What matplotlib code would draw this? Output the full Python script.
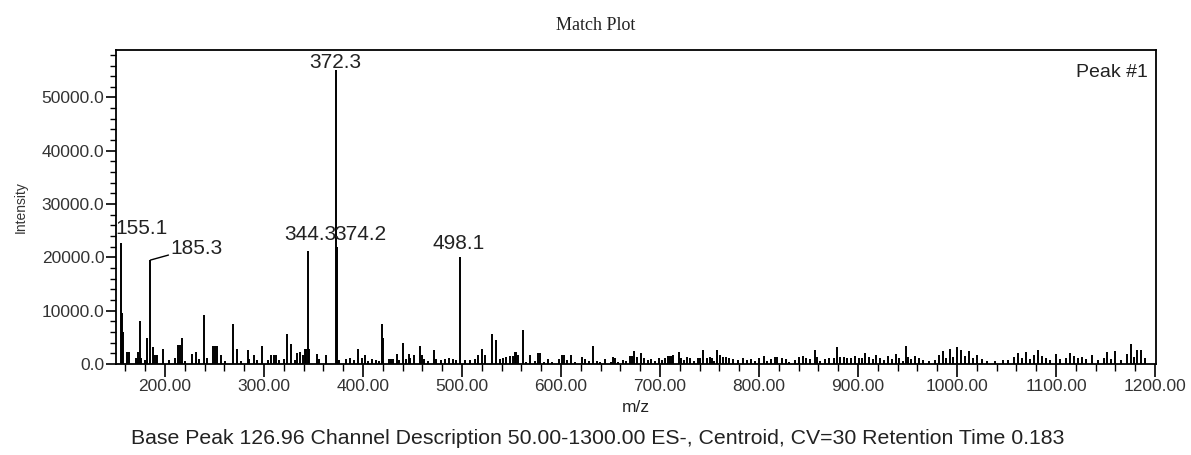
import matplotlib
matplotlib.use("Agg")
import matplotlib.pyplot as plt
from matplotlib.ticker import MultipleLocator, FormatStrFormatter

# Centroided spectrum: m/z positions and intensities
mz = [
    155.1, 156.5, 158.0, 162.0, 164.0, 171.0, 172.5, 175.0, 176.0, 180.0,
    182.0, 185.3, 187.7, 189.0, 190.5, 192.0, 197.8, 204.0, 209.6, 213.0,
    215.0, 217.4, 220.0, 227.5, 231.6, 234.5, 239.3, 242.0, 248.0, 250.0,
    252.4, 256.8, 261.0, 268.6, 272.5, 277.0, 283.8, 285.0, 289.8, 293.0,
    298.0, 304.0, 307.5, 310.0, 312.5, 315.0, 320.0, 323.6, 327.7, 331.0,
    333.7, 336.0, 339.0, 341.0, 342.5, 344.3, 345.5, 354.0, 356.0, 363.0,
    372.3, 374.2, 376.0, 383.0, 386.5, 391.0, 395.0, 398.5, 402.0, 405.0,
    409.0, 413.0, 416.0, 418.7, 420.4, 426.0, 428.0, 430.0, 434.0, 436.5,
    440.0, 443.0, 446.0, 447.5, 451.7, 457.5, 459.5, 461.5, 466.0, 471.6,
    474.0, 479.0, 482.6, 487.0, 491.0, 494.0, 498.1, 503.0, 508.0, 513.0,
    516.0, 520.0, 523.0, 530.0, 534.0, 538.0, 541.0, 544.5, 548.0, 551.0,
    553.6, 555.0, 557.0, 561.4, 565.0, 569.0, 573.5, 577.0, 578.5, 583.0,
    586.5, 591.0, 598.0, 601.0, 603.5, 606.0, 610.0, 614.5, 621.0, 624.5,
    628.0, 632.0, 636.0, 639.0, 644.0, 650.0, 652.5, 655.0, 658.0, 663.0,
    666.0, 670.0, 671.5, 674.0, 677.0, 681.0, 683.5, 687.4, 691.0, 695.0,
    698.5, 702.0, 705.0, 708.5, 710.0, 712.0, 713.5, 718.7, 721.0, 724.5,
    727.0, 730.5, 734.5, 738.0, 740.5, 743.0, 747.0, 750.0, 752.5, 755.0,
    758.0, 761.0, 763.5, 767.0, 770.0, 774.0, 779.0, 783.5, 788.0, 791.5,
    796.0, 800.0, 805.0, 808.5, 812.0, 816.0, 818.5, 823.5, 827.0, 830.0,
    836.0, 840.5, 844.5, 847.0, 852.0, 856.4, 859.0, 862.0, 867.0, 871.0,
    876.0, 879.0, 882.0, 885.7, 889.0, 893.0, 897.0, 901.0, 904.0, 907.0,
    911.0, 915.0, 918.0, 922.0, 926.0, 930.0, 934.0, 938.0, 941.0, 945.0,
    948.0, 951.0, 954.0, 958.0, 962.0, 966.0, 972.0, 978.0, 982.0, 986.0,
    989.0, 993.0, 996.0, 1000.0, 1004.0, 1008.0, 1012.0, 1016.0, 1020.0, 1025.0,
    1030.0, 1038.0, 1046.0, 1052.0, 1058.0, 1062.0, 1066.0, 1070.0, 1074.0, 1078.0,
    1082.0, 1086.0, 1090.0, 1094.0, 1100.0, 1104.0, 1110.0, 1114.0, 1118.0, 1122.0,
    1126.0, 1130.0, 1136.0, 1142.0, 1148.0, 1152.0, 1156.0, 1160.0, 1166.0, 1172.0,
    1176.0, 1179.0, 1182.0, 1186.0, 1190.0,
]
intensity = [
    22700, 9600, 6000, 2300, 2300, 1200, 2300, 8100, 1100, 800,
    4800, 19500, 3250, 1600, 1600, 1600, 2900, 800, 1100, 3500,
    3500, 4800, 600, 1800, 2300, 1000, 9200, 1100, 3300, 3300,
    3300, 1600, 500, 7500, 2900, 500, 2700, 1000, 1600, 800,
    3400, 800, 1600, 1600, 1600, 800, 900, 5600, 3750, 800,
    2100, 2300, 1600, 2900, 2900, 21250, 2900, 1800, 1000, 1600,
    55200, 22000, 800, 900, 1200, 800, 2900, 1200, 1600, 500,
    1000, 800, 500, 7500, 4800, 900, 900, 900, 1800, 800,
    3900, 1000, 1800, 1200, 1600, 3400, 1600, 900, 500, 2700,
    1000, 800, 900, 1200, 900, 800, 20100, 800, 800, 1000,
    1600, 2900, 1600, 5600, 4500, 900, 1100, 1400, 1500, 1500,
    2300, 2300, 1700, 6400, 300, 1700, 600, 2000, 2000, 400,
    900, 300, 900, 1700, 1700, 750, 1700, 400, 1250, 900,
    600, 3400, 600, 400, 900, 400, 1400, 1050, 400, 750,
    600, 1500, 1500, 2500, 1400, 2100, 1050, 750, 900, 600,
    1050, 750, 1050, 1500, 1500, 1500, 1700, 2300, 1050, 750,
    1400, 1050, 600, 1050, 1050, 2600, 1050, 1400, 1050, 600,
    2600, 1700, 1250, 1400, 1050, 900, 750, 1050, 750, 900,
    600, 1050, 1500, 600, 900, 1250, 1400, 1050, 900, 400,
    750, 1250, 1500, 1050, 900, 2600, 1250, 600, 900, 1050,
    1050, 3100, 1400, 1250, 1050, 1050, 1500, 1050, 1050, 2000,
    1250, 900, 1700, 1200, 800, 1500, 900, 1800, 1100, 600,
    3300, 1300, 1000, 1500, 1200, 700, 500, 800, 1600, 2400,
    1200, 2800, 1400, 3200, 2600, 1500, 2500, 1200, 1700, 900,
    600, 500, 700, 800, 1400, 2000, 1200, 2200, 900, 1700,
    2700, 1500, 1100, 800, 1800, 900, 1200, 2100, 1500, 1100,
    1300, 900, 1600, 700, 1200, 2200, 1000, 2400, 800, 1800,
    3700, 1400, 2600, 2600, 1200,
]

# Annotated peaks and label offsets (pixels) relative to each peak top
label_mz = [372.3, 155.1, 185.3, 344.3, 374.2, 498.1]
label_dx = [0, 21, 46, 2, 23, -2]
label_dy = [7, 15, 12, 16, 12, 13]

xmin, xmax = 150, 1201
ymax = 58900

plt.rcParams["font.family"] = ["Liberation Sans", "DejaVu Sans"]

fig = plt.figure(figsize=(11.91, 4.55), dpi=100)
ax = fig.add_axes([0.097, 0.2, 0.8736, 0.69])

ax.vlines(mz, 0, intensity, colors="black", linewidth=1.4)

ax.set_xlim(xmin, xmax)
ax.set_ylim(0, ymax)

ax.xaxis.set_major_locator(MultipleLocator(100))
ax.xaxis.set_minor_locator(MultipleLocator(20))
ax.yaxis.set_major_locator(MultipleLocator(10000))
ax.yaxis.set_minor_locator(MultipleLocator(2000))
ax.xaxis.set_major_formatter(FormatStrFormatter("%.2f"))
ax.yaxis.set_major_formatter(FormatStrFormatter("%.1f"))

ax.tick_params(axis="x", which="major", length=9, width=1.2, labelsize=12.5,
               labelcolor="#333333", pad=2)
ax.tick_params(axis="x", which="minor", length=5, width=1.0)
ax.tick_params(axis="y", which="major", length=7, width=1.2, labelsize=12.5,
               labelcolor="#333333", pad=1)
ax.tick_params(axis="y", which="minor", length=4, width=1.0)

for s in ax.spines.values():
    s.set_linewidth(1.3)

ax.set_xlabel("m/z", fontsize=12.5, color="#222222", labelpad=4)
ax.set_ylabel("Intensity", fontsize=10, color="#333333", labelpad=10)

# Peak labels
lookup = dict(zip(mz, intensity))
for m, dx, dy in zip(label_mz, label_dx, label_dy):
    ax.annotate(f"{m:.1f}", xy=(m, lookup[m]), xytext=(dx, dy),
                textcoords="offset pixels", ha="center", va="center",
                fontsize=15, color="#222222")

# Leader line for the 185.3 label
ax.annotate("", xy=(185.3, lookup[185.3]), xytext=(18, 5),
            textcoords="offset pixels",
            arrowprops=dict(arrowstyle="-", color="black", lw=1.0,
                            shrinkA=0, shrinkB=0))

ax.text(0.992, 0.93, "Peak #1", transform=ax.transAxes, ha="right",
        va="center", fontsize=14, color="#222222")

fig.text(0.5, 0.945, "Match Plot", ha="center", va="center",
         fontsize=13, family=["Liberation Serif", "DejaVu Serif"],
         color="#222222")

fig.text(0.502, 0.037,
         "Base Peak 126.96 Channel Description 50.00-1300.00 ES-, Centroid, "
         "CV=30 Retention Time 0.183",
         ha="center", va="center", fontsize=15.3, color="#222222")

fig.savefig("out.png", dpi=100)
